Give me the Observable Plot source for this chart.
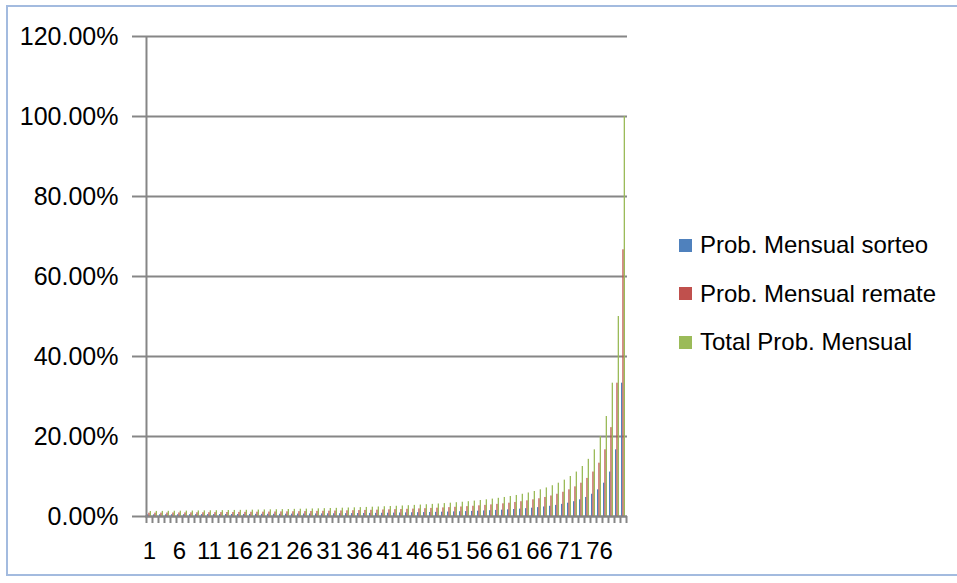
<!DOCTYPE html>
<html>
<head>
<meta charset="utf-8">
<script src="https://cdn.jsdelivr.net/npm/d3@7"></script>
<script src="https://cdn.jsdelivr.net/npm/@observablehq/plot@0.6"></script>
<style>
  html, body { margin: 0; padding: 0; background: #fff; overflow: hidden; }
  #wrap { position: relative; width: 957px; height: 583px; font-family: "Liberation Sans", Arial, sans-serif; }
  #chart { position: absolute; left: 0; top: 0; }
  #border { position: absolute; left: 6px; top: 5px; width: 1000px; height: 571px; border: 2px solid #a3bbdf; border-right: none; box-sizing: border-box; pointer-events: none; }
  #legend { position: absolute; left: 679px; top: 221px; font-size: 24px; color: #000; }
  .item { display: flex; align-items: center; height: 48.5px; white-space: nowrap; }
  .sw { width: 13px; height: 13px; margin-right: 8px; }
</style>
</head>
<body>
<div id="wrap">
  <div id="chart"></div>
  <div id="legend"></div>
  <div id="border"></div>
</div>
<script>
// Categories (months) 1..80
const categories = d3.range(1, 81);
const xLabels = [1, 6, 11, 16, 21, 26, 31, 36, 41, 46, 51, 56, 61, 66, 71, 76];
const yTicks = [0, 20, 40, 60, 80, 100, 120];

const seriesNames = ["Prob. Mensual sorteo", "Prob. Mensual remate", "Total Prob. Mensual"];
const seriesColors = ["#4f81bd", "#c0504d", "#9bbb59"];

// values in percent
const sorteo = [
  0.42, 0.42, 0.43, 0.43, 0.44, 0.44, 0.45, 0.46, 0.46, 0.47,
  0.48, 0.48, 0.49, 0.50, 0.51, 0.51, 0.52, 0.53, 0.54, 0.55,
  0.56, 0.56, 0.57, 0.58, 0.60, 0.61, 0.62, 0.63, 0.64, 0.65,
  0.67, 0.68, 0.69, 0.71, 0.72, 0.74, 0.76, 0.78, 0.79, 0.81,
  0.83, 0.85, 0.88, 0.90, 0.93, 0.95, 0.98, 1.01, 1.04, 1.08,
  1.11, 1.15, 1.19, 1.23, 1.28, 1.33, 1.39, 1.45, 1.52, 1.59,
  1.67, 1.75, 1.85, 1.96, 2.08, 2.22, 2.38, 2.56, 2.78, 3.03,
  3.33, 3.70, 4.17, 4.76, 5.56, 6.67, 8.33, 11.11, 16.67, 33.33
];
const remate = [
  0.83, 0.84, 0.85, 0.87, 0.88, 0.89, 0.90, 0.91, 0.93, 0.94,
  0.95, 0.97, 0.98, 1.00, 1.01, 1.03, 1.04, 1.06, 1.08, 1.09,
  1.11, 1.13, 1.15, 1.17, 1.19, 1.21, 1.23, 1.26, 1.28, 1.31,
  1.33, 1.36, 1.39, 1.42, 1.45, 1.48, 1.52, 1.55, 1.59, 1.63,
  1.67, 1.71, 1.75, 1.80, 1.85, 1.90, 1.96, 2.02, 2.08, 2.15,
  2.22, 2.30, 2.38, 2.47, 2.56, 2.67, 2.78, 2.90, 3.03, 3.17,
  3.33, 3.51, 3.70, 3.92, 4.17, 4.44, 4.76, 5.13, 5.56, 6.06,
  6.67, 7.41, 8.33, 9.52, 11.11, 13.33, 16.67, 22.22, 33.33, 66.67
];
const total = [
  1.25, 1.27, 1.28, 1.30, 1.32, 1.33, 1.35, 1.37, 1.39, 1.41,
  1.43, 1.45, 1.47, 1.49, 1.52, 1.54, 1.56, 1.59, 1.61, 1.64,
  1.67, 1.69, 1.72, 1.75, 1.79, 1.82, 1.85, 1.89, 1.92, 1.96,
  2.00, 2.04, 2.08, 2.13, 2.17, 2.22, 2.27, 2.33, 2.38, 2.44,
  2.50, 2.56, 2.63, 2.70, 2.78, 2.86, 2.94, 3.03, 3.13, 3.23,
  3.33, 3.45, 3.57, 3.70, 3.85, 4.00, 4.17, 4.35, 4.55, 4.76,
  5.00, 5.26, 5.56, 5.88, 6.25, 6.67, 7.14, 7.69, 8.33, 9.09,
  10.00, 11.11, 12.50, 14.29, 16.67, 20.00, 25.00, 33.33, 50.00, 100.00
];

const W = 957, H = 583;
const mL = 145, mR = 330, mT = 36, mB = 67;
const bw = (W - mL - mR) / categories.length;   // band width
const barW = bw / 4.5;                           // gap width 150%
const gap = bw * 0.75 / 4.5;
const gray = "#868686";

const rows = (vals) => categories.map((c, i) => ({cat: c, v: vals[i]}));
const insets = [
  {insetLeft: gap, insetRight: bw - gap - barW},
  {insetLeft: gap + barW, insetRight: gap + barW},
  {insetLeft: gap + 2 * barW, insetRight: gap}
];
const seriesVals = [sorteo, remate, total];

const chart = Plot.plot({
  width: W, height: H,
  marginLeft: mL, marginRight: mR, marginTop: mT, marginBottom: mB,
  style: {fontFamily: "Liberation Sans, Arial, sans-serif", color: "#000", background: "transparent"},
  x: {type: "band", domain: categories, padding: 0, axis: null, label: null},
  y: {domain: [0, 120], axis: null, label: null},
  marks: [
    Plot.gridY(yTicks, {stroke: gray, strokeOpacity: 1, strokeWidth: 2}),
    Plot.axisY({ticks: yTicks, label: null, tickSize: 13, tickPadding: 14, stroke: gray, strokeWidth: 2, fontSize: 25,
      tickFormat: d => d.toFixed(2) + "%"}),
    ...seriesVals.map((vals, s) => Plot.barY(rows(vals), {x: "cat", y: "v", fill: seriesColors[s], ...insets[s]})),
    Plot.ruleY([0], {stroke: gray, strokeWidth: 2}),
    Plot.ruleX([categories[0]], {y1: 0, y2: 120, dx: -bw / 2, stroke: gray, strokeWidth: 2}),
    Plot.axisX({ticks: categories, label: null, tickFormat: () => "", tickSize: 7, dx: -bw / 2, stroke: gray, strokeWidth: 2}),
    Plot.axisX({ticks: [categories[categories.length - 1]], label: null, tickFormat: () => "", tickSize: 7, dx: bw / 2, stroke: gray, strokeWidth: 2}),
    Plot.axisX({ticks: xLabels, label: null, tickSize: 0, tickPadding: 25, fontSize: 24, fill: "#000"})
  ]
});
document.getElementById("chart").appendChild(chart);

const legend = document.getElementById("legend");
seriesNames.forEach((n, i) => {
  const it = document.createElement("div");
  it.className = "item";
  const sw = document.createElement("div");
  sw.className = "sw";
  sw.style.background = seriesColors[i];
  const t = document.createElement("span");
  t.textContent = n;
  it.appendChild(sw); it.appendChild(t);
  legend.appendChild(it);
});
</script>
</body>
</html>
